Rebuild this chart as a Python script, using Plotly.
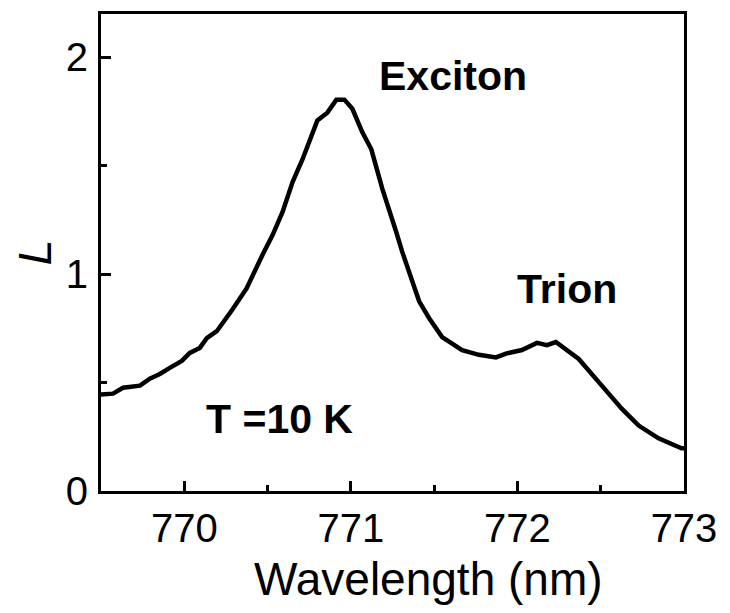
import plotly.graph_objects as go

wavelength = [769.482, 769.572, 769.632, 769.734, 769.793, 769.853, 769.913, 769.985,
              770.033, 770.093, 770.135, 770.195, 770.290, 770.374, 770.470, 770.530,
              770.590, 770.650, 770.710, 770.799, 770.859, 770.913, 770.961, 771.009,
              771.069, 771.123, 771.189, 771.231, 771.272, 771.308, 771.410, 771.470,
              771.548, 771.668, 771.769, 771.871, 771.931, 772.027, 772.117, 772.177,
              772.231, 772.368, 772.470, 772.548, 772.626, 772.728, 772.847, 772.925,
              772.985, 773.039]
L_values = [0.444, 0.449, 0.476, 0.486, 0.518, 0.540, 0.568, 0.600,
            0.637, 0.660, 0.705, 0.737, 0.838, 0.934, 1.090, 1.180,
            1.287, 1.425, 1.530, 1.709, 1.745, 1.805, 1.805, 1.763,
            1.654, 1.576, 1.393, 1.300, 1.196, 1.104, 0.875, 0.797,
            0.710, 0.650, 0.628, 0.616, 0.634, 0.650, 0.683, 0.673,
            0.687, 0.609, 0.522, 0.449, 0.380, 0.302, 0.243, 0.220,
            0.197, 0.197]

x_ticks = [770, 771, 772, 773]
y_ticks = [0, 1, 2]
labels = ["Exciton", "Trion", "T =10 K"]
label_x = [771.614, 772.295, 770.572]
label_y = [1.915, 0.93, 0.33]

FONT = "Arial, Liberation Sans, sans-serif"

fig = go.Figure()
fig.add_trace(go.Scatter(x=wavelength, y=L_values, mode="lines",
                         line=dict(color="black", width=4.5), showlegend=False))

for t, xx, yy in zip(labels, label_x, label_y):
    fig.add_annotation(x=xx, y=yy, text="<b>%s</b>" % t, showarrow=False,
                       font=dict(family=FONT, size=41, color="black"),
                       xanchor="center", yanchor="middle")

fig.add_annotation(xref="paper", yref="paper", x=0.561, y=-0.125,
                   text="Wavelength (nm)", showarrow=False,
                   font=dict(family=FONT, size=46, color="black"),
                   xanchor="center", yanchor="top")

fig.update_layout(
    width=730, height=613,
    margin=dict(l=93, r=54, t=3, b=130),
    paper_bgcolor="white", plot_bgcolor="white",
    font=dict(family=FONT, color="black"),
    xaxis=dict(range=[769.5, 773], tickvals=x_ticks, ticks="inside", ticklen=10,
               tickwidth=3, tickcolor="black", showline=True, linewidth=3,
               linecolor="black", mirror=True, showgrid=False, zeroline=False,
               tickfont=dict(size=40), ticklabelstandoff=0,
               minor=dict(dtick=0.5, tick0=769.5, ticks="inside", ticklen=6,
                          tickwidth=3, tickcolor="black", showgrid=False)),
    yaxis=dict(range=[0, 2.2], tickvals=y_ticks, ticks="inside", ticklen=10,
               tickwidth=3, tickcolor="black", showline=True, linewidth=3,
               linecolor="black", mirror=True, showgrid=False, zeroline=False,
               tickfont=dict(size=40), ticklabelstandoff=2,
               title=dict(text="<i>L</i>", font=dict(size=47), standoff=8),
               minor=dict(dtick=0.5, tick0=0, ticks="inside", ticklen=6,
                          tickwidth=3, tickcolor="black", showgrid=False)),
)

fig.write_html("out.html")
